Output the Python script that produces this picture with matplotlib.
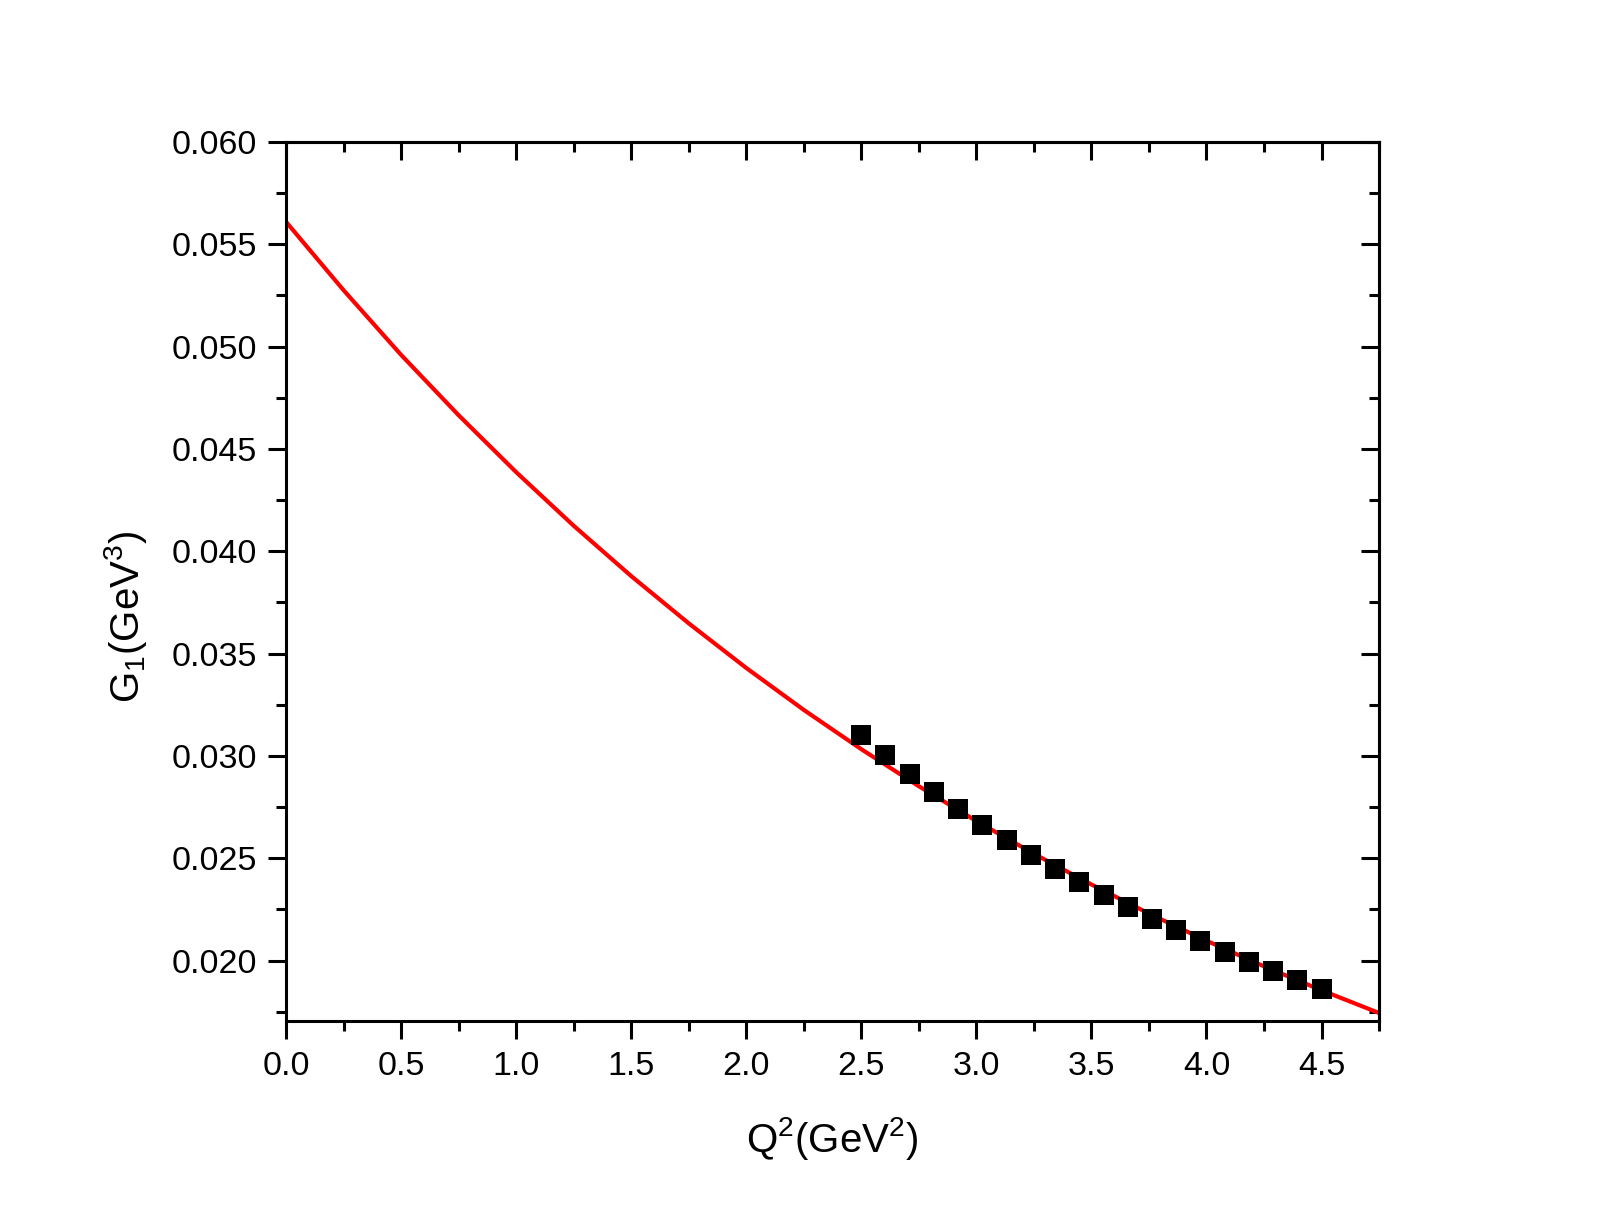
import matplotlib
matplotlib.use("Agg")
import matplotlib.pyplot as plt
from matplotlib.ticker import MultipleLocator, FormatStrFormatter

plt.rcParams['font.family'] = ['Liberation Sans', 'DejaVu Sans']
plt.rcParams['mathtext.fontset'] = 'custom'
plt.rcParams['mathtext.rm'] = 'Liberation Sans'
plt.rcParams['mathtext.it'] = 'Liberation Sans'
plt.rcParams['mathtext.default'] = 'regular'

# Data
q2_points = [2.500, 2.605, 2.711, 2.816, 2.921, 3.026, 3.132, 3.237, 3.342, 3.447,
             3.553, 3.658, 3.763, 3.868, 3.974, 4.079, 4.184, 4.289, 4.395, 4.500]
g1_points = [0.03101, 0.03004, 0.02913, 0.02825, 0.02743, 0.02663, 0.02588, 0.02515,
             0.02446, 0.02383, 0.02319, 0.02261, 0.02202, 0.02148, 0.02096, 0.02043,
             0.01995, 0.01948, 0.01904, 0.01860]

q2_curve = [0.00, 0.25, 0.50, 0.75, 1.00, 1.25, 1.50, 1.75, 2.00, 2.25,
            2.50, 2.75, 3.00, 3.25, 3.50, 3.75, 4.00, 4.25, 4.50, 4.75]
g1_curve = [0.05610, 0.05276, 0.04960, 0.04665, 0.04387, 0.04125, 0.03879, 0.03648,
            0.03430, 0.03225, 0.03033, 0.02852, 0.02682, 0.02522, 0.02372, 0.02230,
            0.02097, 0.01972, 0.01855, 0.01744]

fig = plt.figure(figsize=(16, 12.25), dpi=100)
ax = fig.add_axes([0.17875, 0.1669, 0.8619 - 0.17875, 0.8841 - 0.1669])

ax.plot(q2_curve, g1_curve, color='#ff0000', lw=3.0, zorder=2)
ax.plot(q2_points, g1_points, ls='none', marker='s', ms=14.5, color='black',
        markeredgewidth=0, zorder=3)

ax.set_xlim(0, 4.75)
ax.set_ylim(0.01707, 0.060)

ax.xaxis.set_major_locator(MultipleLocator(0.5))
ax.xaxis.set_minor_locator(MultipleLocator(0.25))
ax.yaxis.set_major_locator(MultipleLocator(0.005))
ax.yaxis.set_minor_locator(MultipleLocator(0.0025))
ax.xaxis.set_major_formatter(FormatStrFormatter('%.1f'))
ax.yaxis.set_major_formatter(FormatStrFormatter('%.3f'))

for s in ax.spines.values():
    s.set_linewidth(2.2)

ax.tick_params(which='both', direction='out', width=2.2, labelsize=24.5,
               top=False, right=False)
ax.tick_params(which='major', length=13)
ax.tick_params(which='minor', length=7)
ax.tick_params(axis='y', which='major', pad=8)
ax.tick_params(axis='x', which='major', pad=9)

# inward ticks on top and right
ax2 = ax.secondary_xaxis('top')
ax2.xaxis.set_major_locator(MultipleLocator(0.5))
ax2.xaxis.set_minor_locator(MultipleLocator(0.25))
ax2.tick_params(which='both', direction='in', width=2.2, labeltop=False)
ax2.tick_params(which='major', length=13)
ax2.tick_params(which='minor', length=7)
ax2.spines['top'].set_linewidth(2.2)
ax3 = ax.secondary_yaxis('right')
ax3.yaxis.set_major_locator(MultipleLocator(0.005))
ax3.yaxis.set_minor_locator(MultipleLocator(0.0025))
ax3.tick_params(which='both', direction='in', width=2.2, labelright=False)
ax3.tick_params(which='major', length=13)
ax3.tick_params(which='minor', length=7)
ax3.spines['right'].set_linewidth(2.2)

ax.set_xlabel(r'Q$^{2}$(GeV$^{2}$)', fontsize=29)
ax.set_ylabel(r'G$_{1}$(GeV$^{3}$)', fontsize=29)
ax.xaxis.set_label_coords(0.5, -0.108)
ax.yaxis.set_label_coords(-0.125, 0.46)

fig.savefig('out.png', dpi=100, facecolor='white')
